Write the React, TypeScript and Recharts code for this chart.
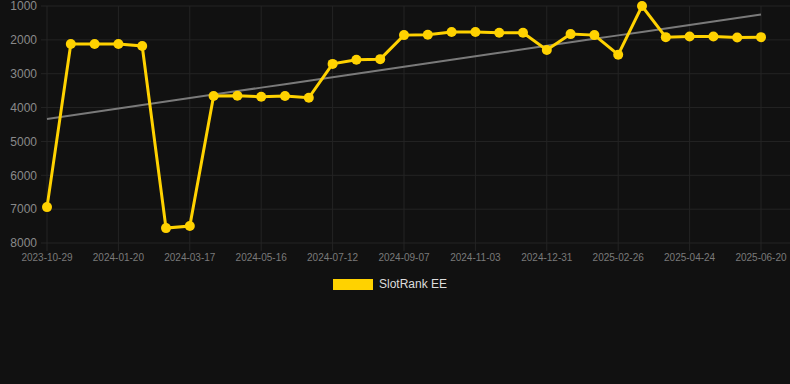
import * as React from 'react';
import {
  LineChart,
  Line,
  XAxis,
  YAxis,
  CartesianGrid,
  Legend
} from 'recharts';

// category labels (only every third one is shown on the axis)
const dates = [
  '2023-10-29', '2023-11-26', '2023-12-24', '2024-01-20', '2024-02-08', '2024-02-27',
  '2024-03-17', '2024-04-06', '2024-04-26', '2024-05-16', '2024-06-04', '2024-06-23',
  '2024-07-12', '2024-07-31', '2024-08-19', '2024-09-07', '2024-09-26', '2024-10-15',
  '2024-11-03', '2024-11-22', '2024-12-12', '2024-12-31', '2025-01-19', '2025-02-07',
  '2025-02-26', '2025-03-17', '2025-04-05', '2025-04-24', '2025-05-13', '2025-06-01',
  '2025-06-20'
];

// rank values (lower is better, axis is reversed)
const ranks = [
  6940, 2120, 2120, 2120, 2180, 7560, 7500, 3660, 3650, 3680, 3660, 3710,
  2710, 2590, 2570, 1860, 1850, 1770, 1770, 1790, 1790, 2300, 1830, 1860,
  2440, 1000, 1920, 1900, 1900, 1930, 1920
];

const yTicks = [1000, 2000, 3000, 4000, 5000, 6000, 7000, 8000];

const FONT = '"Liberation Sans", Arial, Helvetica, sans-serif';
const GOLD = '#FFD200';

// least squares trend over the series
const n = ranks.length;
const meanX = (n - 1) / 2;
const meanY = ranks.reduce((a, b) => a + b, 0) / n;
let sxy = 0;
let sxx = 0;
ranks.forEach((v, i) => {
  sxy += (i - meanX) * (v - meanY);
  sxx += (i - meanX) * (i - meanX);
});
const slope = sxy / sxx;
const intercept = meanY - slope * meanX;

const data = dates.map((d, i) => ({
  date: d,
  rank: ranks[i],
  trend: intercept + slope * i
}));

const LegendContent = () => (
  <div style={{ display: 'flex', alignItems: 'center', paddingLeft: 333, fontFamily: FONT }}>
    <span style={{ display: 'inline-block', width: 40, height: 11, background: GOLD }} />
    <span style={{ marginLeft: 6, fontSize: 12, color: '#dddddd' }}>SlotRank EE</span>
  </div>
);

export default function App() {
  return (
    <div style={{ position: 'fixed', left: 0, top: 0, width: 790, height: 384, background: '#111111' }}>
      <LineChart
        width={790}
        height={384}
        data={data}
        margin={{ top: 6, right: 0, left: 0, bottom: 111 }}
      >
        <CartesianGrid stroke="#242424" strokeWidth={1} syncWithTicks />
        <XAxis
          dataKey="date"
          interval={2}
          padding={{ left: 6, right: 29 }}
          axisLine={false}
          tickLine={{ stroke: '#242424' }}
          tickSize={8}
          tickMargin={3}
          height={30}
          tick={{ fill: '#7a7a7a', fontSize: 10, fontFamily: FONT }}
        />
        <YAxis
          reversed
          domain={[1000, 8000]}
          ticks={yTicks}
          interval={0}
          width={41}
          axisLine={false}
          tickLine={false}
          tickSize={0}
          tickMargin={4}
          tick={{ fill: '#8a8a8a', fontSize: 12, fontFamily: FONT }}
        />
        <Legend
          verticalAlign="middle"
          align="center"
          wrapperStyle={{ top: 277, left: 0, width: 790 }}
          content={<LegendContent />}
        />
        <Line
          dataKey="trend"
          stroke="#7a7a7a"
          strokeWidth={2}
          dot={false}
          activeDot={false}
          legendType="none"
          isAnimationActive={false}
        />
        <Line
          dataKey="rank"
          name="SlotRank EE"
          stroke={GOLD}
          strokeWidth={3}
          dot={{ r: 5, fill: GOLD, stroke: GOLD, strokeWidth: 0 }}
          activeDot={false}
          isAnimationActive={false}
        />
      </LineChart>
    </div>
  );
}
